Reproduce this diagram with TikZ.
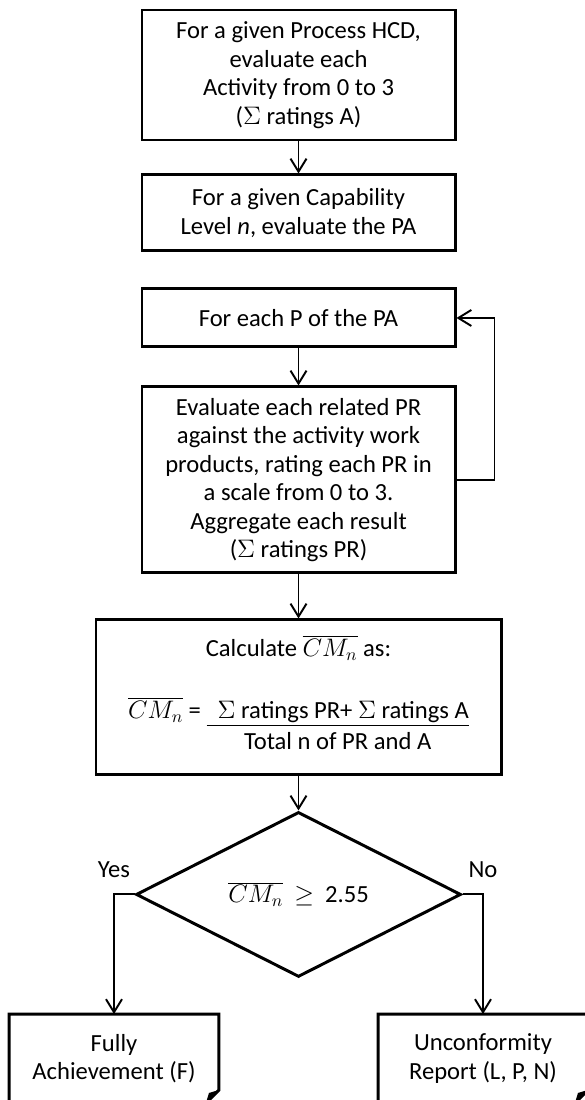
\documentclass[tikz,border=0pt]{standalone}
\usepackage{fontspec}
\setmainfont{Carlito}
\usepackage{tikz}
\tikzstyle{stepbox}=[rectangle,draw=black,line width=1.7pt,minimum width=6.26cm,
align=center,inner sep=2pt]
\tikzstyle{decision}=[diamond,draw=black,line width=1.7pt,minimum width=6.5cm,
minimum height=3.3cm,aspect=2,inner sep=1pt]
\tikzstyle{report}=[rectangle,minimum width=4.16cm,minimum height=1.74cm,align=center]
\tikzstyle{lbl}=[inner sep=1pt]
\usetikzlibrary{arrows.meta,positioning,shapes.geometric}

\begin{document}
\begin{tikzpicture}[node distance=0.8cm, >={Straight Barb[length=2.6mm,width=3.2mm]},
        every node/.style={font=\fontsize{14}{16.2}\selectfont}, line width=1.1pt]
            \useasboundingbox (0,0) rectangle (11.7,-22);
            \clip (0,0) rectangle (11.7,-22);

            % RATING PART

            \node[stepbox, minimum height=2.6cm] (ask) at (5.97,-1.5) {For a given Process HCD,\\ evaluate each\\ Activity from 0 to 3\\ ($\Sigma$ ratings A)};
            \node[stepbox, minimum height=1.52cm, below=0.64cm of ask] (lvl) {For a given Capability\\ Level \textit{n}, evaluate the PA};

            \path[->] (ask) edge (lvl);

            % LOOP PART

            \node[stepbox, minimum height=1.16cm, below=0.7cm of lvl] (pa) {For each P of the PA};
            \node[stepbox, minimum height=3.72cm, below=0.74cm of pa] (ev) {Evaluate each related PR\\ against the activity work\\ products, rating each PR in\\ a scale from 0 to 3.\\ Aggregate each result\\ ($\Sigma$ ratings PR)};

            \path[->] (pa) edge (ev);
            \draw[->] (ev.east) -- ++(0.76,0) |- (pa.east);

            % CM PART

            \node[stepbox, minimum width=8.1cm, minimum height=3.1cm, below=0.88cm of ev] (calc) {Calculate $\overline{CM_n}$ as:\\[19pt]
                $\overline{CM_n}$ = \renewcommand\arraystretch{1.1}\begin{tabular}[t]{@{}c@{}}\underline{\ \ $\Sigma$ ratings PR+ $\Sigma$ ratings A}\\ Total n of PR and A\end{tabular}};
            \node[decision, below=0.68cm of calc] (dia) {$\overline{CM_n}$\ \ $\geq$\ \ 2.55};

            \path[->] (ev) edge (calc);
            \path[->] (calc) edge (dia);

            % RESULT PART

            \node[report] (fa) at (2.28,-21.17) {Fully\\ Achievement (F)};
            \node[report] (uc) at (9.66,-21.17) {Unconformity\\ Report (L, P, N)};

            \coordinate (ycorner) at (dia.west -| fa.north);
            \coordinate (ncorner) at (dia.east -| uc.north);
            \node[lbl, above=0.29cm of ycorner] (yes) {Yes};
            \node[lbl, above=0.29cm of ncorner] (no) {No};

            \draw[->] (dia.west) -- (ycorner) -- (fa.north);
            \draw[->] (dia.east) -- (ncorner) -- (uc.north);

            \foreach \r in {fa,uc}{
                \draw[line width=1.7pt] (\r.north west) -- (\r.north east) -- ([yshift=0.26cm]\r.south east)
                    -- ([xshift=-0.26cm]\r.south east) -- (\r.south west) -- cycle;
                \fill ([yshift=0.26cm]\r.south east) -- ([xshift=-0.26cm]\r.south east)
                    -- ([xshift=-0.2cm,yshift=0.2cm]\r.south east) -- cycle;
            }

        \end{tikzpicture}
\end{document}
